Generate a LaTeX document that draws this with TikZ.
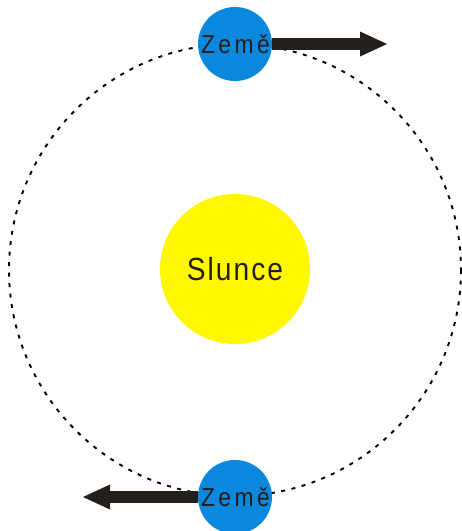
\documentclass[tikz,border=0pt]{standalone}
\usepackage{fontspec}
\setmainfont{Liberation Sans}
\newfontfamily\lab[FakeStretch=0.88]{Liberation Sans}
\usetikzlibrary{arrows.meta}
\definecolor{earthblue}{HTML}{0A88DE}
\definecolor{sunyellow}{HTML}{FFF800}
\definecolor{ink}{HTML}{231F20}
\definecolor{arrowink}{HTML}{231F1A}
\tikzset{
  planet/.style={circle, draw=none, fill=earthblue, minimum size=74pt, inner sep=0pt,
    font=\lab\fontsize{26}{26}\selectfont, text=ink},
  sun/.style={circle, draw=none, fill=sunyellow, minimum size=150pt, inner sep=0pt,
    font=\lab\fontsize{32}{32}\selectfont, text=ink},
  orbit/.style={draw=black, line width=1.9pt, dash pattern=on 4pt off 6.5pt},
  motion/.style={draw=arrowink, line width=12pt,
    -{Triangle[length=27pt, width=25pt, line width=0pt, fill=arrowink]}}
}
\begin{document}
\begin{tikzpicture}[x=1pt, y=-1pt]
  \useasboundingbox (0,0) rectangle (462,531);
  \clip (0,0) rectangle (462,531);
  \coordinate (c) at (235,270);
  \draw[orbit] (c) circle[radius=226];
  \node[sun] (slunce) at (235,269) {S\kern2pt l\kern2pt u\kern2pt n\kern2pt c\kern2pt e};
  \node[planet] (z1) at (235,44) {\kern1pt Z\kern3.5pt e\kern3.5pt m\kern3.5pt ě};
  \node[planet] (z2) at (235,497) {\kern1pt Z\kern3.5pt e\kern3.5pt m\kern3.5pt ě};
  \coordinate (t1) at (387,44);
  \coordinate (t2) at (83,497);
  \draw[motion] (z1.east) -- (t1);
  \draw[motion] (z2.west) -- (t2);
\end{tikzpicture}
\end{document}
